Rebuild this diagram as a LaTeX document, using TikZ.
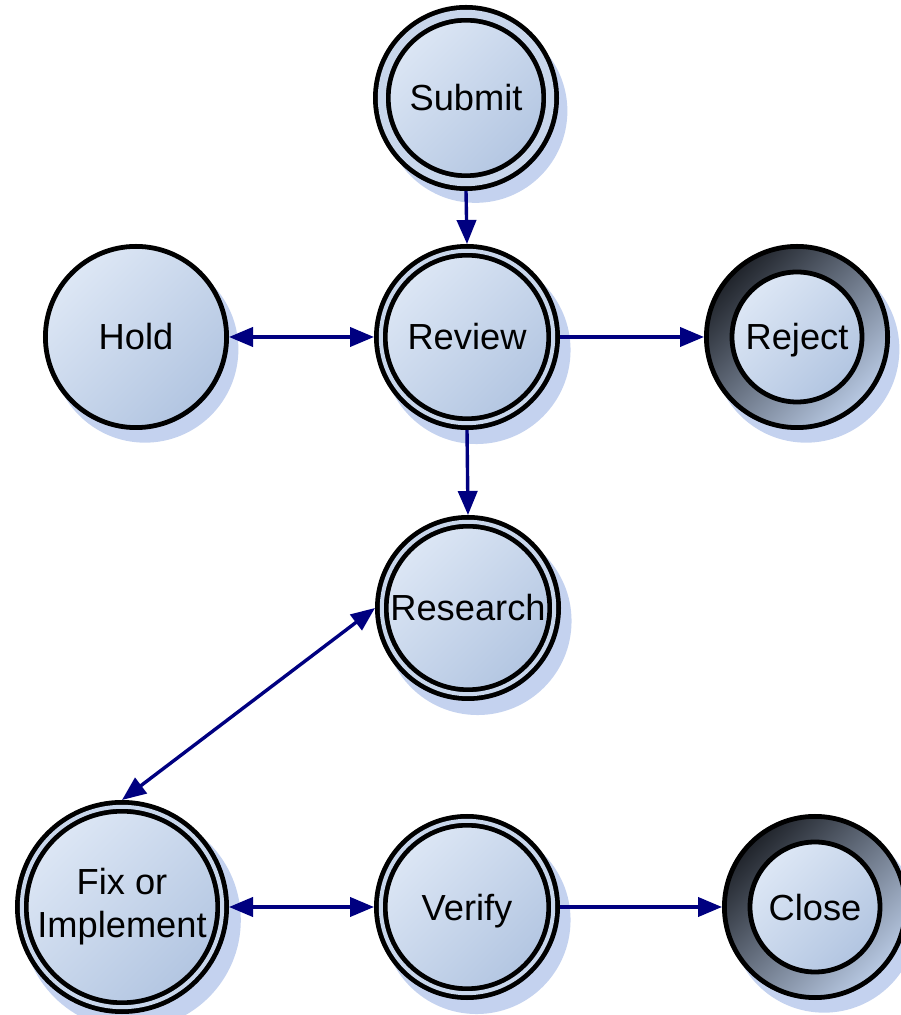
\documentclass[tikz,border=0pt]{standalone}
\usepackage{fontspec}
\setmainfont{Liberation Sans}
\usetikzlibrary{arrows.meta,shadows}

\definecolor{statelight}{RGB}{221,231,245}
\definecolor{statedark}{RGB}{178,197,225}
\definecolor{statemid}{RGB}{200,214,235}
\definecolor{ringdark}{RGB}{32,36,43}
\definecolor{ringlight}{RGB}{184,201,227}
\definecolor{shadowblue}{RGB}{196,210,239}
\definecolor{flownavy}{RGB}{0,0,128}

\tikzset{
  state/.style={circle, draw=black, line width=0.12cm, inner sep=0pt,
    top color=statelight, bottom color=statedark, shading angle=45,
    font=\fontsize{25.8}{30.6}\selectfont, align=center,
    text height=18.5pt, text depth=0pt},
  shade shadow/.style={drop shadow={shadow xshift=0.22cm, shadow yshift=-0.3cm,
    shadow scale=#1, fill=shadowblue, opacity=1}},
  single/.style={state, minimum size=4.53cm, shade shadow=1.03},
  twin/.style={state, double=statemid, double distance=0.1cm,
    minimum size=4.31cm, outer sep=0.17cm, shade shadow=1.09},
  ring/.style={state, top color=ringdark, bottom color=ringlight, shading angle=45,
    minimum size=4.53cm, shade shadow=1.03},
  core/.style={state, minimum size=3.25cm},
  tip/.tip={Triangle[length=0.6cm,width=0.48cm]},
  flow/.style={draw=flownavy, line width=0.085cm, -tip},
  twoway/.style={flow, tip-tip}
}

\begin{document}
\begin{tikzpicture}
\useasboundingbox (0,0) rectangle (22.525,25.375);

\node[twin, double distance=0.2cm, minimum size=4.21cm, outer sep=0.22cm] (submit) at (11.65,22.925) {Submit};
\node[twin] (review) at (11.675,16.95) {Review};
\node[single] (hold) at (3.4,16.95) {Hold};
\node[ring] (reject) at (19.925,16.95) {};
\node[core] (rejectcore) at (reject) {Reject};
\node[twin] (research) at (11.7,10.175) {Research};
\node[twin, minimum size=5.01cm, text height={}, text depth={}] (fix) at (3.05,2.7) {Fix or\\Implement};
\node[twin] (verify) at (11.675,2.7) {Verify};
\node[ring] (close) at (20.375,2.7) {};
\node[core] (closecore) at (close) {Close};

\draw[flow] (submit.south) -- (review.north);
\draw[twoway] (hold) -- (review);
\draw[flow] (review) -- (reject);
\draw[flow] (review.south) -- (research.north);
\draw[twoway] (research.west) -- (fix.north);
\draw[twoway] (fix) -- (verify);
\draw[flow] (verify) -- (close);
\end{tikzpicture}
\end{document}
